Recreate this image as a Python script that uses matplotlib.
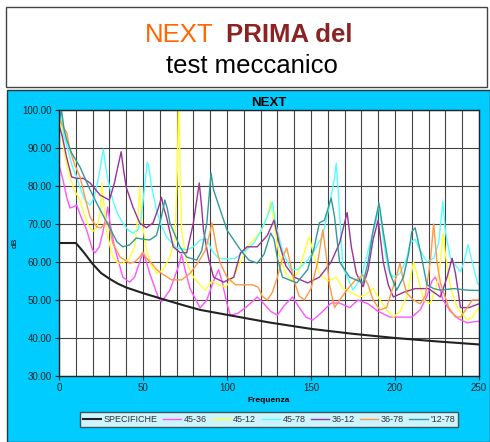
# Grafico NEXT prima del test meccanico
import matplotlib
matplotlib.use("Agg")
import matplotlib.pyplot as plt
from matplotlib.patches import Rectangle

plt.rcParams['font.family'] = ['Liberation Sans', 'DejaVu Sans']

# curva di specifica
f_spec = [0, 10, 12, 15, 20, 25, 30, 35, 40, 50, 65, 75, 84, 100, 125, 150, 175, 200, 225, 250]
db_spec = [65, 65, 64, 62.4, 59.5, 57.1, 55.6, 54.3, 53.3, 51.8, 49.8, 48.5, 47.4, 46.1, 44.1, 42.4,
           41.1, 40.0, 39.1, 38.3]

# 45-36
f_4536 = [0, 2.4, 4.6, 6.5, 8.5, 10.5, 13, 16.5, 20, 21.4, 24, 26, 28, 29, 30.5, 33, 38, 42, 45, 47,
          50, 52, 54, 59, 61, 66, 71, 73, 75, 78, 84, 88, 92, 95, 97, 100, 102, 106.5, 111, 115, 118,
          122, 126, 130, 134, 139, 143, 147, 151, 156, 162, 167, 173, 178, 184, 190, 197, 203, 210,
          215, 219, 222, 224, 226, 228.6, 233, 238, 243, 246, 250]
db_4536 = [85.5, 81.6, 77, 74.2, 74.5, 75, 72, 68.4, 63.2, 62.4, 64, 67.6, 72, 74.5, 70, 64, 56, 54.7, 56, 58.7,
           62.4, 60, 57, 50.8, 49.5, 52.6, 58.7, 62, 58, 53, 47.9, 50, 55, 58, 55, 49, 46, 46.5, 48, 49.5, 50.8,
           49, 47, 46, 48.5, 50.8, 48, 45.5, 44.7, 46.6, 49.2, 49.2, 48, 50, 49, 47, 45.5, 45.5, 45.5,
           47.4, 51, 55, 56, 54, 50, 47, 45, 44, 44.2, 44.4]

# 45-12
f_4512 = [0, 1, 2, 3.6, 6.5, 9, 12.5, 16.5, 20, 22.5, 24.5, 25.5, 26.5, 28.5, 32, 35, 38, 42, 45, 47,
          48, 49, 52, 55, 58, 62, 66, 69, 70.5, 71, 71.5, 72, 73, 76, 80, 84, 87, 91, 95, 99, 104, 108,
          112, 116, 120, 124, 126, 128, 131, 135, 139, 143, 147, 149, 151, 155, 160, 165, 169, 174,
          179, 183, 187, 191, 195, 199, 203, 207, 209, 211, 213, 217, 221, 225, 227, 228.6, 230, 233,
          237, 243, 246, 249, 250]
db_4512 = [96, 100, 92, 87.6, 82.4, 79, 76.3, 70.3, 68, 69, 73, 80.8, 76, 67.6, 61.3, 59.7, 59.7, 61, 64, 72,
           79.7, 72, 63.2, 59, 57, 58, 61.3, 66, 85, 100, 100, 85, 68.4, 59.7, 56, 54, 52.6, 55, 54, 53.4, 56, 60,
           64, 66, 68, 72, 76, 70, 62, 57, 55, 58, 64, 66.6, 63, 57, 55, 56, 53, 52,
           50.8, 51.5, 53.1, 50, 47.4, 45.5, 47, 51, 55.3, 60, 57, 50, 49, 54, 60, 67.6, 62, 53.4,
           48, 44.7, 45.5, 47.4, 48]

# 45-78
f_4578 = [0, 1, 3, 5, 8, 10.5, 13, 15.5, 18.5, 21, 23, 25, 26.4, 27.5, 29, 32, 35, 38, 41, 44, 47, 49,
          51, 52.5, 53.5, 55, 58, 61, 64, 70, 76, 80, 84, 88, 91, 95, 100, 105, 111, 116, 120, 124,
          127, 129, 133, 138, 142, 147, 152, 157, 161, 164, 165, 166, 169, 175, 180, 184, 187, 189,
          190.5, 193, 196, 199, 203, 207, 209, 212, 215, 219, 223, 226, 228.5, 230, 233, 239, 241,
          243.5, 246, 249, 250]
db_4578 = [95, 100, 93, 90, 85, 82.4, 79, 76.3, 75, 77, 81, 86, 89.7, 86, 82, 76.3, 72.5, 70.3, 68.5, 67.6, 68.5, 72,
           80, 86.3, 85, 80, 73.7, 69.5, 66.6, 63.7, 63.2, 64, 65.8, 66, 63, 61, 60.8, 61, 63, 65, 68, 72,
           75.8, 70, 63, 58, 58, 60, 63, 67, 75, 82, 86, 80, 58.7, 52.6, 56, 63, 68, 71,
           75.5, 66, 58, 56, 57, 61, 65, 66, 63, 60, 61, 65, 76, 68, 61, 57.4, 60,
           64.5, 60, 54.5, 54]

# 36-12
f_3612 = [0, 2, 4.5, 7.5, 10.5, 14.5, 18.5, 24.5, 30, 33, 35, 37, 38.5, 40, 44, 48, 52, 56, 59, 61,
          62.5, 64, 68, 72, 76, 80, 83.5, 85, 86, 89, 92, 98, 104, 108, 112, 118, 124, 128, 131, 135,
          140, 148, 155, 162, 167, 171.5, 174, 177, 181, 184, 187, 190, 193, 196, 199, 205, 212, 220,
          227, 231, 234, 236, 239, 244, 250]
db_3612 = [96, 93, 87.6, 82.4, 82, 82, 80.8, 77.6, 76.3, 80.8, 85, 89, 84, 79.7, 74.5, 70.3, 69, 70.3, 74, 77,
           74, 71.8, 64, 62.5, 62.4, 70.3, 80.8, 74, 68.4, 61, 56, 54.7, 56, 62.4, 64, 64, 67, 71, 65, 59,
           56, 54.5, 56, 60, 65, 73, 64, 57, 53.5, 58, 66, 71, 60, 54, 50.8, 52, 53, 53,
           50.8, 56, 61, 57, 48, 48, 49]

# 36-78
f_3678 = [0, 2, 4.6, 6.5, 9, 12.5, 15.5, 18.5, 22.5, 25, 27, 29, 30.5, 32, 36.3, 42, 45, 48, 50, 52,
          55, 58, 61, 67, 73, 78, 83, 87, 90, 91, 92, 94, 96, 100, 105, 110, 115, 118.5, 121, 124,
          127, 130, 133, 135.5, 137, 140, 143, 146, 150, 154, 157, 159, 161, 164, 167, 172, 176,
          181, 184, 187, 191, 195, 200, 203, 205, 207, 211, 215, 218, 221, 223, 225, 227, 232,
          236, 239, 243, 246, 250]
db_3678 = [98, 96, 94, 89.5, 86, 82.4, 77, 71.8, 69.2, 69, 70, 70.5, 68, 65, 61.3, 59.7, 60, 61.3, 62.6, 61,
           59.7, 58, 57, 55.3, 55.3, 57, 60, 63, 68, 70.3, 68, 63, 59.7, 56, 54, 54, 54, 53.4, 51, 50,
           52, 56, 61, 63.7, 61, 55, 51, 50, 53, 60, 68.4, 62, 54, 48, 50, 53, 55,
           56.6, 54, 50, 47.4, 48, 55, 59.7, 55, 51.8, 50, 49, 51, 60, 70, 60, 54.5, 48,
           45.5, 45.5, 48, 50, 50]

# 12-78
f_1278 = [0, 1.5, 3, 4.6, 7.5, 12.5, 18.5, 24.5, 30, 34.5, 38, 42, 46, 50, 54, 58, 61, 63, 64.5, 66,
          72, 76, 82, 85, 88, 90.5, 92, 94, 100, 108, 113, 118, 122, 126, 128, 130, 133, 141.5, 148,
          152, 155, 158, 162, 164, 167, 173, 181, 184, 187, 190.5, 193, 197, 201, 205, 208, 210,
          212, 215, 219, 223, 227, 235, 243, 250]
db_1278 = [97, 100, 95, 92, 88.7, 85, 79, 73.7, 69.2, 65.3, 64, 64.5, 66.3, 66, 65.8, 67, 72, 76.3, 74, 70.3,
           64, 61.3, 60.5, 63, 70.3, 83.4, 79, 76.3, 68.4, 63.2, 60.5, 59.7, 62, 67.6, 66, 61, 56, 54.5, 58,
           64, 70.3, 71, 76.8, 72, 60, 56, 54.5, 60, 68.4, 75.5, 68, 57, 52.6, 56, 62, 68,
           69, 63, 54, 53, 52.6, 53, 52.6, 52.5]

series = [
    ('45-36', f_4536, db_4536, '#ff55ff'),
    ('45-12', f_4512, db_4512, '#ffff33'),
    ('45-78', f_4578, db_4578, '#55ffff'),
    ('36-12', f_3612, db_3612, '#993399'),
    ('36-78', f_3678, db_3678, '#ff9944'),
    ("'12-78", f_1278, db_1278, '#339999'),
]

fig = plt.figure(figsize=(4.9, 4.42), dpi=100)

# riquadro del titolo
fig.patches.append(Rectangle((6/490, 1 - 87/442), 481/490, 79.5/442, transform=fig.transFigure,
                             facecolor='white', edgecolor='#444444', linewidth=1.0, zorder=-2))
fig.text(145/490, 1 - 41.7/442, 'NEXT', color='#ff6600', fontsize=18.5, va='baseline', ha='left')
fig.text(226/490, 1 - 41.7/442, 'PRIMA del', color='#8b2323', fontsize=18.5, fontweight='bold',
         va='baseline', ha='left')
fig.text(252/490, 1 - 73/442, 'test meccanico', color='black', fontsize=18.5, va='baseline', ha='center')

# sfondo azzurro
fig.patches.append(Rectangle((7/490, 0), 483/490, (442 - 89.5)/442, transform=fig.transFigure,
                             facecolor='#00ccff', edgecolor='#333333', linewidth=1.0, zorder=-2))

ax = fig.add_axes([59/490, 1 - 376/442, 420/490, 266/442])
ax.set_facecolor('white')

ax.plot(f_spec, db_spec, color='#222222', linewidth=1.5, label='SPECIFICHE', zorder=3)
for nome, f, db, col in series:
    ax.plot(f, db, color=col, linewidth=1.0, label=nome)

ax.set_xlim(0, 250)
ax.set_ylim(30, 100)
ax.set_xticks(range(0, 251, 50))
ax.set_yticks(range(30, 101, 10))
ax.set_yticklabels(['%.2f' % v for v in range(30, 101, 10)])
ax.set_xticks(range(0, 251, 10), minor=True)
ax.grid(True, which='both', color='#444444', linewidth=0.8)
ax.set_axisbelow(True)
ax.tick_params(which='major', labelsize=7, length=3, colors='#222222', pad=2)
ax.tick_params(which='minor', length=0)
for s in ax.spines.values():
    s.set_color('#222222')
    s.set_linewidth(1.0)

ax.set_title('NEXT', fontsize=9.5, fontweight='bold', pad=3)
ax.set_xlabel('Frequenza', fontsize=6, fontweight='bold', labelpad=3)
ax.set_ylabel('dB', fontsize=6, labelpad=3)

leg = ax.legend(loc='center', bbox_to_anchor=(269/490, 1 - 419.5/442), bbox_transform=fig.transFigure,
                ncol=7, fontsize=6.5, frameon=True, fancybox=False, handlelength=2.0, handletextpad=0.3,
                columnspacing=0.6, borderpad=0.35)
leg.get_frame().set_edgecolor('#333333')
leg.get_frame().set_linewidth(1.0)
for t in leg.get_texts():
    t.set_color('#333333')

fig.savefig('out.png', dpi=100)
